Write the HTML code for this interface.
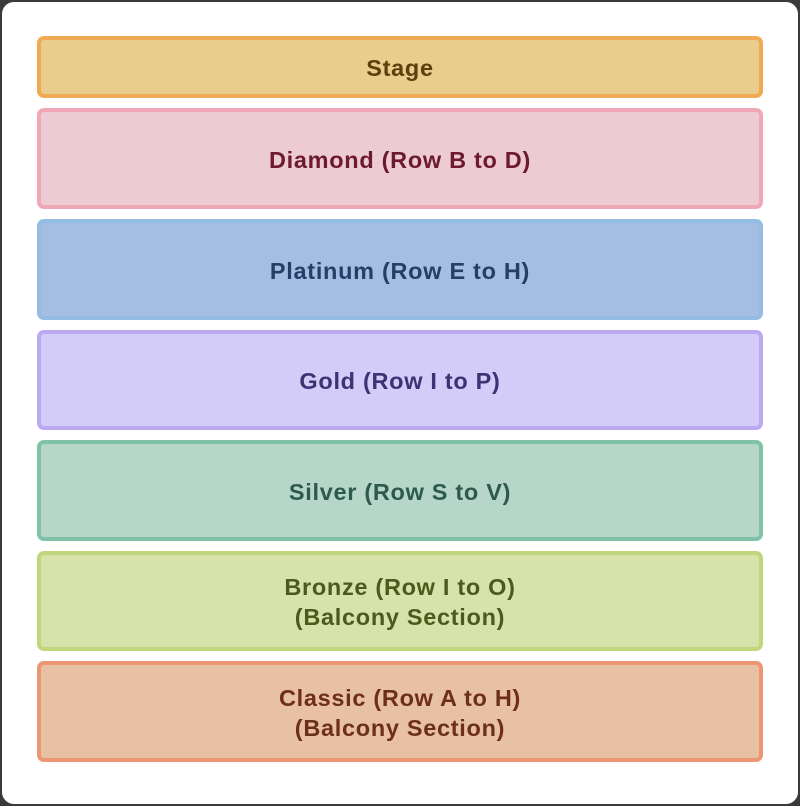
<!DOCTYPE html>
<html><head><style>
html,body{margin:0;padding:0;width:800px;height:806px;background:#3a3a3a;overflow:hidden}
.card{position:absolute;left:2px;top:2px;width:796px;height:802px;background:#fff;border-radius:12px}
.b{position:absolute;left:37px;width:726px;box-sizing:border-box;border:4px solid;border-radius:7px;display:flex;align-items:center;justify-content:center;text-align:center;font-family:"Liberation Sans",sans-serif;font-weight:bold;font-size:23.5px;line-height:30px;letter-spacing:0.7px;padding-top:2px}
</style></head><body>
<div class="card"></div>
<div class="b" style="top:36px;height:62px;background:#e9cd8c;border-color:#f2a953;color:#5e3e0c">Stage</div>
<div class="b" style="top:108px;height:101px;background:#ecccd2;border-color:#f2a7b6;color:#6e1a2e">Diamond (Row B to D)</div>
<div class="b" style="top:219px;height:101px;background:#a6bde3;border-color:#93bde2;color:#243f66">Platinum (Row E to H)</div>
<div class="b" style="top:330px;height:100px;background:#d3cbf8;border-color:#bba9f2;color:#3e3275">Gold (Row I to P)</div>
<div class="b" style="top:440px;height:101px;background:#b5d6c9;border-color:#80c2a8;color:#2e5a4c">Silver (Row S to V)</div>
<div class="b" style="top:551px;height:100px;background:#d7e3aa;border-color:#c0d67c;color:#4c5a1e">Bronze (Row I to O)<br>(Balcony Section)</div>
<div class="b" style="top:661px;height:101px;background:#e8c0a3;border-color:#ee9573;color:#6e2e1c">Classic (Row A to H)<br>(Balcony Section)</div>
</body></html>
